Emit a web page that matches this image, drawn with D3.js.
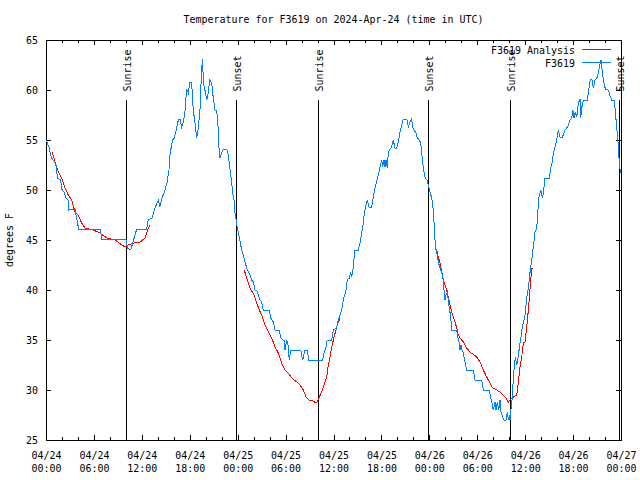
<!DOCTYPE html>
<html>
<head>
<meta charset="utf-8">
<script src="https://cdn.jsdelivr.net/npm/d3@7"></script>
<style>
  html, body { margin: 0; padding: 0; background: #fff; }
  svg { display: block; }
  text { font-family: "DejaVu Sans Mono", "Liberation Mono", monospace; font-size: 11px; fill: #000; }
</style>
</head>
<body>
<svg id="chart" width="640" height="480"></svg>
<script>
// ---- data (hours after 2024-04-24 00:00 UTC) ----
const titleText = "Temperature for F3619 on 2024-Apr-24 (time in UTC)";
const yLabelText = "degrees F";
const seriesNames = ["F3619 Analysis", "F3619"];
const yTicks = [25, 30, 35, 40, 45, 50, 55, 60, 65];

const obsHours = [0.0,0.38,0.5,0.71,0.91,1.13,1.34,1.41,1.84,1.97,2.25,2.5,2.79,2.84,3.63,3.76,4.09,6.76,7.0,10.0,
 10.2,10.6,10.9,11.36,12.6,12.8,13.3,13.5,13.65,14.06,14.25,14.5,14.9,15.15,15.4,15.55,15.85,16.07,16.3,16.57,
 16.78,16.99,17.19,17.4,17.53,17.62,17.82,18.03,18.24,18.44,18.66,18.87,19.07,19.28,19.5,19.62,19.7,19.9,20.12,20.32,
 20.5,20.75,20.87,21.04,21.16,21.37,21.58,21.66,21.79,22.0,22.2,22.63,22.83,22.95,23.13,23.25,23.38,23.54,23.67,23.88,
 23.95,24.2,24.5,24.7,24.92,25.13,25.33,25.54,25.76,25.96,26.17,26.38,26.58,26.8,27.0,27.2,27.96,28.14,28.46,28.68,
 29.2,29.39,29.64,29.8,29.93,30.14,30.3,30.47,30.64,31.9,32.14,32.43,32.72,32.9,34.65,34.8,35.06,35.22,35.77,35.98,
 36.4,36.6,37.03,37.23,37.57,37.73,37.98,38.15,38.28,38.4,38.69,39.1,39.32,39.53,39.73,39.86,40.07,40.23,40.48,40.78,
 40.9,41.07,41.2,41.4,41.61,41.82,42.03,42.16,42.32,42.45,42.57,42.74,42.86,42.99,43.28,43.48,43.7,43.91,44.11,44.33,
 44.54,44.74,45.17,45.37,45.58,45.79,45.92,46.08,46.33,46.5,46.74,46.92,47.04,47.17,47.33,47.5,47.71,47.87,48.08,48.3,
 48.5,48.62,48.75,48.83,49.0,49.12,49.34,49.55,49.75,49.84,49.96,50.09,50.25,50.38,50.5,50.68,50.8,51.43,51.55,51.76,
 51.84,51.97,52.09,52.25,52.47,52.68,53.51,53.72,54.56,54.76,55.51,55.69,55.85,56.01,56.22,56.35,56.51,56.69,56.85,56.97,
 57.19,57.35,57.6,57.77,57.89,58.02,58.1,58.19,58.31,58.44,58.51,58.64,58.77,58.94,59.07,59.19,59.35,59.48,59.57,59.77,
 59.98,60.19,60.4,60.6,60.82,61.02,61.23,61.44,61.57,61.73,61.95,62.07,62.2,62.36,62.49,63.02,63.2,63.4,63.53,63.74,
 63.95,64.15,64.37,64.58,64.78,64.99,65.2,65.41,65.62,65.83,65.96,66.12,66.28,66.46,66.66,66.87,66.96,67.08,67.29,67.79,
 67.92,68.13,68.34,68.54,68.75,69.04,69.29,69.5,69.67,69.88,70.04,70.42,70.63,70.84,71.13,71.25,71.38,71.54,71.66,71.79,
 71.94];
const obsTemps = [55,54.3,53.8,53.2,53,52.7,52.2,51.2,51,50.1,49.8,49.2,49,48,48.1,47.5,46.1,46.1,45.1,45.1,
 44.2,44,44.8,46.1,46.1,47,47.2,47.8,48.2,49,48.3,49.1,50,50.7,52,53.7,55,55.2,56,57,
 57.1,56.3,56.8,57.8,59.3,60.1,59.7,60.8,60.7,58,56.7,55.2,56.2,58,62.3,63.1,60.7,60,59,59.7,
 61,60.7,59.7,58.7,58,58,56,54.2,53.2,53.7,54.1,54.1,53.5,52.7,51.5,50.7,49.7,49,47.7,46.7,
 46.2,45.3,44,43.5,42.8,42.2,41.8,41.5,41,40.8,40,40,39.5,39,38.8,38,38,37.2,36.8,36,
 36,35.2,35,35,34,35,34.5,33,34,34,33,34,34,33,33,33.7,34.3,35,35,36,
 36.2,37,38,39,40,41,41.2,41.8,41.3,41.8,44,44,44.7,45.7,46.7,47.7,48.5,49,48.2,48.3,
 48.8,49.7,50.2,50.8,51.5,52.3,53,52.3,53,52.3,53,52.2,53.7,54,54.3,55,54.2,54.2,54.8,55.8,
 56.5,57.1,57.1,56.3,56.8,57.1,56.3,56,55.7,55.2,55,54.7,53.8,52.7,51.8,51.2,51,50.5,49.8,49.2,
 48,46.3,44.5,44,43.5,42.8,42.2,41.7,41,40,39,39.5,39.8,39,38.2,37.3,36,36,35.3,34.7,
 34,34.5,34,33.7,32.8,32,32,31,31,30,30,29.2,28.7,28,28.8,28,28.8,28,29,27.8,
 27.3,27,27,27.8,27,27.5,27,27.8,28.7,29.7,31.3,32.3,33.3,32.5,33,33.7,34.7,35.3,36,36.7,
 37.5,39.2,40.2,41.7,43,44.3,45.8,46.1,47.7,49.3,50,49.5,49.3,50.3,51.2,51.2,52.2,52.8,53.7,54.3,
 55,56,55.3,55.2,55.5,56,56.2,56.5,57,57.2,58,57.2,57.8,57.3,58.7,59.1,57.2,58.2,59,59,
 59.8,61,61.1,60.2,61,61.3,62.3,63,61.7,60.7,60.1,60,59.4,59,59,58.2,57,55.5,54.5,52.7,
 51.7];

// analysis series; null marks a gap between the three daily runs
const anaHours = [0.79,1.13,1.54,1.97,2.38,2.79,3.22,3.63,4.04,4.47,4.88,5.92,6.76,7.6,8.64,9.48,9.9,10.3,11.0,11.8,12.4,12.61,12.8,13.02,
 null,
 24.83,25.2,25.54,26.05,26.38,26.71,27.0,27.42,27.84,28.26,28.68,29.09,29.51,29.93,30.34,30.77,31.39,31.81,32.22,32.56,32.97,33.47,33.81,33.97,
 34.22,34.52,34.81,35.15,35.35,35.56,35.77,35.98,36.4,36.81,
 null,
 48.71,48.92,49.12,49.34,49.55,49.75,49.96,50.17,50.38,50.59,50.8,51.0,51.21,51.43,51.63,51.84,52.25,52.68,53.09,53.93,
 54.35,54.76,55.18,55.6,55.93,56.43,56.85,57.26,57.6,57.89,58.1,58.52,58.94,59.14,59.35,59.57,59.77,59.98,60.19,60.4,
 60.6,60.82,60.94];
const anaTemps = [53.8,52.8,51.8,51.2,50.2,49.5,49,47.8,47.5,46.7,46.2,46,45.7,45.2,45,44.5,44.3,44.5,44.7,44.8,45.2,45.7,46.2,46.5,
 null,
 42,41,40.2,39.5,38.7,38,37.5,36.5,35.8,35.2,34.3,33.7,32.7,32,31.7,31.2,30.8,30.5,30,29.3,29,28.9,28.7,28.8,
 29.3,29.8,30.5,31.3,32.5,33.3,34.2,35,36.3,37.2,
 null,
 44.2,44,43.3,42.7,41.8,41,40.5,40,39.3,38.5,37.8,37.3,36.8,36.2,35.5,35.2,34.8,34.2,33.8,33.3,
 32.8,32,31.3,30.7,30.2,30,29.8,29.5,29.2,28.8,29,29.3,29.5,30.7,32.3,33.3,34.7,34.8,36.3,38,
 40,42.2,42.2];

const sunHours = [10.0, 23.8, 34.05, 47.8, 58.1, 71.7];
const sunLabels = ["Sunrise", "Sunset", "Sunrise", "Sunset", "Sunrise", "Sunset"];

// ---- chart ----
const START = Date.UTC(2024, 3, 24, 0, 0, 0);
const toDate = h => new Date(START + h * 3600e3);
const colors = ["#ff0000", "#0080ff"];
const CW = 6; // character advance in px

const svg = d3.select("#chart");
const L = 46, R = 621, T = 40, B = 440;
const x = d3.scaleUtc().domain([toDate(0), toDate(72)]).range([L, R]);
const y = d3.scaleLinear().domain([25, 65]).range([B, T]);

function fit(sel) {
  sel.each(function () {
    const t = d3.select(this).text();
    d3.select(this).attr("textLength", t.length * CW).attr("lengthAdjust", "spacingAndGlyphs");
  });
}

// title
svg.append("text").attr("x", (L + R) / 2).attr("y", 23).attr("text-anchor", "middle")
  .text(titleText).call(fit);

// y label
svg.append("text").attr("transform", "translate(13,240) rotate(-90)").attr("text-anchor", "middle")
  .text(yLabelText).call(fit);

// minor x ticks (every 2 h) bottom & top
const minorX = d3.utcHour.every(2).range(toDate(0), toDate(72.01));
const majorX = d3.utcHour.every(6).range(toDate(0), toDate(72.01));
svg.append("g").attr("transform", `translate(0,${B})`)
  .call(d3.axisBottom(x).tickValues(minorX).tickSize(-3).tickFormat(""))
  .call(g => g.select(".domain").remove());
svg.append("g").attr("transform", `translate(0,${T})`)
  .call(d3.axisTop(x).tickValues(minorX).tickSize(-3).tickFormat(""))
  .call(g => g.select(".domain").remove());

// major x ticks
const fmtDay = d3.utcFormat("%m/%d"), fmtHour = d3.utcFormat("%H:%M");
const xb = svg.append("g").attr("transform", `translate(0,${B})`)
  .call(d3.axisBottom(x).tickValues(majorX).tickSize(-5).tickFormat(""))
  .call(g => g.select(".domain").remove());
xb.selectAll(".tick").each(function (d) {
  const g = d3.select(this);
  g.append("text").attr("y", 18.5).attr("text-anchor", "middle").attr("fill", "#000").text(fmtDay(d)).call(fit);
  g.append("text").attr("y", 31.5).attr("text-anchor", "middle").attr("fill", "#000").text(fmtHour(d)).call(fit);
});
svg.append("g").attr("transform", `translate(0,${T})`)
  .call(d3.axisTop(x).tickValues(majorX).tickSize(-5).tickFormat(""))
  .call(g => g.select(".domain").remove());

// y ticks left & right
const yl = svg.append("g").attr("transform", `translate(${L},0)`)
  .call(d3.axisLeft(y).tickValues(yTicks).tickSize(-5).tickPadding(8).tickFormat(d3.format("d")))
  .call(g => g.select(".domain").remove());
yl.selectAll("text").call(fit);
svg.append("g").attr("transform", `translate(${R},0)`)
  .call(d3.axisRight(y).tickValues(yTicks).tickSize(-5).tickFormat(""))
  .call(g => g.select(".domain").remove());

svg.selectAll(".tick line").attr("stroke", "#000").attr("shape-rendering", "crispEdges");
svg.selectAll("g").attr("font-size", null).attr("font-family", null);

// frame
svg.append("rect").attr("x", L + 0.5).attr("y", T + 0.5).attr("width", R - L).attr("height", B - T)
  .attr("fill", "none").attr("stroke", "#000").attr("shape-rendering", "crispEdges");

// sunrise / sunset markers
const sun = svg.append("g");
sunHours.forEach((h, i) => {
  const xx = Math.round(x(toDate(h))) + 0.5;
  sun.append("line").attr("x1", xx).attr("x2", xx).attr("y1", y(59.05)).attr("y2", y(25))
    .attr("stroke", "#000").attr("shape-rendering", "crispEdges");
  sun.append("text").attr("transform", `translate(${xx + 4},${y(59.05) - 8}) rotate(-90)`)
    .attr("text-anchor", "start").text(sunLabels[i]).call(fit);
});

// lines
const line = d3.line()
  .defined(d => d.t != null)
  .x(d => x(toDate(d.h)))
  .y(d => y(d.t));
const ana = anaHours.map((h, i) => ({ h: h, t: anaTemps[i] }));
const obs = obsHours.map((h, i) => ({ h: h, t: obsTemps[i] }));
svg.append("path").datum(ana).attr("d", line).attr("fill", "none").attr("stroke", colors[0])
  .attr("stroke-width", 1).attr("shape-rendering", "crispEdges");
svg.append("path").datum(obs).attr("d", line).attr("fill", "none").attr("stroke", colors[1])
  .attr("stroke-width", 1).attr("shape-rendering", "crispEdges");

// legend
const leg = svg.append("g");
seriesNames.forEach((n, i) => {
  const yy = 49.5 + i * 13;
  leg.append("text").attr("x", 575).attr("y", yy + 4).attr("text-anchor", "end").text(n).call(fit);
  leg.append("line").attr("x1", 582).attr("x2", 611).attr("y1", yy).attr("y2", yy)
    .attr("stroke", colors[i]).attr("stroke-width", 1).attr("shape-rendering", "crispEdges");
});
</script>
</body>
</html>
